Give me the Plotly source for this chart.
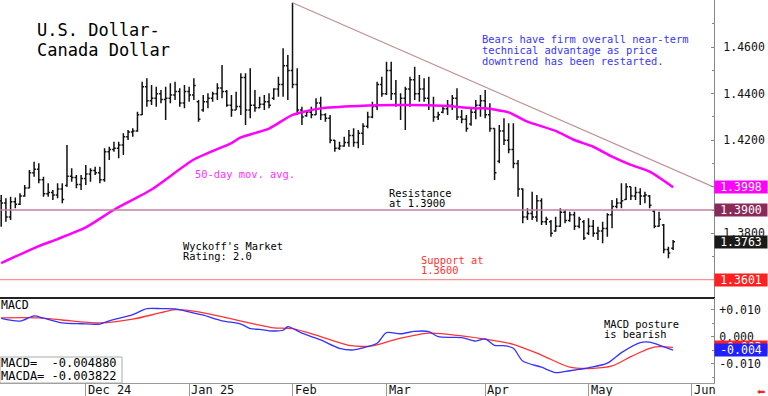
import math
import pandas as pd
import plotly.graph_objects as go

FONT = "DejaVu Sans Mono"

# ---------------- DATA ----------------
# trading calendar: weekdays from 6 Nov 2024, New Year's Day closed
calendar = [d for d in pd.bdate_range("2024-11-06", "2025-06-06")
            if d.strftime("%Y-%m-%d") != "2025-01-01"]

opens = [1.3940, 1.3930, 1.3870, 1.3935, 1.3925, 1.3960, 1.3995, 1.4060, 1.4075, 1.4030,
         1.3970, 1.3975, 1.3965, 1.3990, 1.4005, 1.4045, 1.4040, 1.4010, 1.4035, 1.4055,
         1.4070, 1.4060, 1.4030, 1.4150, 1.4160, 1.4165, 1.4180, 1.4215, 1.4235, 1.4240,
         1.4310, 1.4430, 1.4370, 1.4380, 1.4400, 1.4375, 1.4380, 1.4395, 1.4410, 1.4360,
         1.4410, 1.4395, 1.4365, 1.4330, 1.4365, 1.4380, 1.4400, 1.4425, 1.4410, 1.4350,
         1.4330, 1.4345, 1.4470, 1.4330, 1.4350, 1.4340, 1.4355, 1.4365, 1.4380, 1.4420,
         1.4440, 1.4520, 1.4500, 1.4440, 1.4330, 1.4305, 1.4320, 1.4310, 1.4360, 1.4310,
         1.4295, 1.4200, 1.4165, 1.4175, 1.4190, 1.4220, 1.4190, 1.4230, 1.4260, 1.4300,
         1.4345, 1.4440, 1.4400, 1.4500, 1.4400, 1.4350, 1.4380, 1.4420, 1.4460, 1.4400,
         1.4420, 1.4380, 1.4350, 1.4300, 1.4320, 1.4335, 1.4350, 1.4380, 1.4300, 1.4290,
         1.4270, 1.4320, 1.4350, 1.4370, 1.4310, 1.4250, 1.4110, 1.4240, 1.4200, 1.4160,
         1.4100, 1.3990, 1.3870, 1.3885, 1.3870, 1.3940, 1.3850, 1.3850, 1.3810, 1.3830,
         1.3890, 1.3855, 1.3880, 1.3830, 1.3850, 1.3800, 1.3830, 1.3800, 1.3810, 1.3820,
         1.3880, 1.3915, 1.3930, 1.3945, 1.4000, 1.3960, 1.3975, 1.3960, 1.3960, 1.3895,
         1.3830, 1.3835, 1.3730, 1.3735]

highs = [1.3964, 1.3950, 1.3957, 1.3954, 1.3972, 1.4007, 1.4072, 1.4108, 1.4101, 1.4043,
         1.4015, 1.3986, 1.4015, 1.4015, 1.4179, 1.4079, 1.4050, 1.4050, 1.4093, 1.4079,
         1.4086, 1.4086, 1.4165, 1.4172, 1.4194, 1.4194, 1.4230, 1.4244, 1.4251, 1.4323,
         1.4452, 1.4466, 1.4437, 1.4430, 1.4416, 1.4430, 1.4445, 1.4452, 1.4423, 1.4437,
         1.4430, 1.4466, 1.4373, 1.4394, 1.4402, 1.4409, 1.4445, 1.4523, 1.4416, 1.4395,
         1.4409, 1.4488, 1.4488, 1.4509, 1.4416, 1.4387, 1.4394, 1.4402, 1.4423, 1.4473,
         1.4595, 1.4566, 1.4791, 1.4509, 1.4344, 1.4330, 1.4344, 1.4380, 1.4387, 1.4316,
         1.4308, 1.4201, 1.4194, 1.4215, 1.4244, 1.4251, 1.4244, 1.4273, 1.4323, 1.4366,
         1.4452, 1.4473, 1.4538, 1.4538, 1.4459, 1.4402, 1.4430, 1.4473, 1.4516, 1.4480,
         1.4466, 1.4473, 1.4387, 1.4323, 1.4351, 1.4373, 1.4394, 1.4423, 1.4330, 1.4308,
         1.4337, 1.4373, 1.4394, 1.4416, 1.4359, 1.4251, 1.4265, 1.4294, 1.4273, 1.4273,
         1.4115, 1.3993, 1.3907, 1.3979, 1.3964, 1.3950, 1.3871, 1.3857, 1.3871, 1.3907,
         1.3900, 1.3893, 1.3893, 1.3871, 1.3857, 1.3864, 1.3857, 1.3828, 1.3850, 1.3886,
         1.3943, 1.3950, 1.4015, 1.4015, 1.4000, 1.4000, 1.3993, 1.3979, 1.3964, 1.3900,
         1.3893, 1.3840, 1.3742, 1.3771]

lows = [1.3828, 1.3850, 1.3857, 1.3907, 1.3921, 1.3957, 1.3993, 1.4043, 1.4015, 1.3957,
        1.3957, 1.3943, 1.3950, 1.3929, 1.4000, 1.4022, 1.3993, 1.3986, 1.4007, 1.4022,
        1.4050, 1.4015, 1.4022, 1.4115, 1.4151, 1.4122, 1.4136, 1.4201, 1.4215, 1.4237,
        1.4308, 1.4344, 1.4351, 1.4344, 1.4359, 1.4287, 1.4359, 1.4373, 1.4344, 1.4337,
        1.4366, 1.4373, 1.4280, 1.4323, 1.4337, 1.4366, 1.4373, 1.4380, 1.4344, 1.4301,
        1.4330, 1.4308, 1.4265, 1.4294, 1.4323, 1.4337, 1.4330, 1.4337, 1.4373, 1.4387,
        1.4387, 1.4373, 1.4423, 1.4308, 1.4265, 1.4301, 1.4294, 1.4308, 1.4287, 1.4280,
        1.4187, 1.4151, 1.4158, 1.4172, 1.4172, 1.4172, 1.4165, 1.4179, 1.4251, 1.4294,
        1.4330, 1.4387, 1.4394, 1.4373, 1.4344, 1.4287, 1.4244, 1.4344, 1.4373, 1.4366,
        1.4366, 1.4330, 1.4280, 1.4287, 1.4316, 1.4308, 1.4330, 1.4287, 1.4273, 1.4237,
        1.4262, 1.4290, 1.4301, 1.4294, 1.4237, 1.4029, 1.4101, 1.4179, 1.4144, 1.4079,
        1.3957, 1.3843, 1.3857, 1.3857, 1.3850, 1.3836, 1.3836, 1.3785, 1.3807, 1.3828,
        1.3843, 1.3850, 1.3814, 1.3821, 1.3771, 1.3793, 1.3785, 1.3771, 1.3757, 1.3785,
        1.3821, 1.3907, 1.3907, 1.3943, 1.3943, 1.3943, 1.3921, 1.3929, 1.3907, 1.3821,
        1.3828, 1.3714, 1.3692, 1.3728]

closes = [1.3930, 1.3870, 1.3935, 1.3925, 1.3960, 1.3995, 1.4060, 1.4075, 1.4030, 1.3970,
          1.3975, 1.3965, 1.3990, 1.3945, 1.4045, 1.4040, 1.4010, 1.4035, 1.4055, 1.4070,
          1.4060, 1.4030, 1.4150, 1.4160, 1.4165, 1.4180, 1.4215, 1.4235, 1.4240, 1.4310,
          1.4430, 1.4370, 1.4380, 1.4400, 1.4375, 1.4380, 1.4395, 1.4410, 1.4360, 1.4410,
          1.4395, 1.4435, 1.4290, 1.4365, 1.4380, 1.4400, 1.4425, 1.4410, 1.4350, 1.4330,
          1.4345, 1.4470, 1.4330, 1.4350, 1.4340, 1.4355, 1.4365, 1.4350, 1.4420, 1.4440,
          1.4520, 1.4500, 1.4440, 1.4330, 1.4300, 1.4320, 1.4310, 1.4360, 1.4310, 1.4295,
          1.4200, 1.4165, 1.4175, 1.4190, 1.4220, 1.4190, 1.4230, 1.4260, 1.4300, 1.4345,
          1.4440, 1.4400, 1.4500, 1.4400, 1.4350, 1.4380, 1.4420, 1.4460, 1.4400, 1.4420,
          1.4380, 1.4350, 1.4300, 1.4310, 1.4335, 1.4350, 1.4380, 1.4300, 1.4290, 1.4250,
          1.4320, 1.4350, 1.4370, 1.4310, 1.4250, 1.4060, 1.4240, 1.4200, 1.4160, 1.4100,
          1.3990, 1.3870, 1.3885, 1.3870, 1.3940, 1.3850, 1.3860, 1.3800, 1.3830, 1.3890,
          1.3855, 1.3880, 1.3830, 1.3860, 1.3780, 1.3830, 1.3800, 1.3810, 1.3820, 1.3880,
          1.3915, 1.3930, 1.3940, 1.4000, 1.3960, 1.3975, 1.3960, 1.3965, 1.3920, 1.3830,
          1.3860, 1.3730, 1.3715, 1.3763]

# 50-day moving average (bar number, value)
ma_bar = [0, 8, 12, 18, 24, 32, 41, 49, 51, 57, 62, 68, 76, 85, 91, 95, 101, 103,
          108, 112, 118, 122, 126, 130, 134, 138, 143]
ma_val = [1.3672, 1.3745, 1.3775, 1.3825, 1.3901, 1.3988, 1.4117, 1.4188, 1.4212,
          1.4250, 1.4309, 1.4337, 1.4347, 1.4351, 1.4350, 1.4347, 1.4337, 1.4337,
          1.4320, 1.4280, 1.4240, 1.4201, 1.4172, 1.4129, 1.4094, 1.4065, 1.3998]

# MACD (blue) and MACD average (red)
macd_bar = [0, 4, 7, 9, 13, 17, 21, 23, 28, 31, 34, 37, 40, 43, 47, 51, 53, 55, 57, 60,
            61, 64, 68, 72, 75, 77, 80, 82, 85, 88, 91, 93, 98, 101, 103, 105, 107, 109,
            111, 115, 118, 121, 125, 129, 132, 136, 138, 140, 143]
macd_val = [0.0069, 0.0059, 0.0078, 0.0070, 0.0052, 0.0049, 0.0048, 0.0060, 0.0083,
            0.0105, 0.0105, 0.0104, 0.0093, 0.0081, 0.0060, 0.0048, 0.0031, 0.0028,
            0.0023, 0.0025, 0.0038, 0.0014, -0.0011, -0.0042, -0.0048, -0.0040, -0.0023,
            0.0016, 0.0012, 0.0021, 0.0020, 0.0001, -0.0002, -0.0015, -0.0007, -0.0031,
            -0.0032, -0.0042, -0.0089, -0.0112, -0.0132, -0.0125, -0.0114, -0.0097,
            -0.0058, -0.0021, -0.0019, -0.0030, -0.004880]
sig_bar = [0, 8, 13, 21, 28, 34, 37, 42, 49, 54, 58, 62, 68, 74, 79, 84, 91, 98, 104,
           109, 115, 121, 126, 130, 134, 138, 140, 143]
sig_val = [0.0071, 0.0071, 0.0063, 0.0052, 0.0066, 0.0090, 0.0101, 0.0093, 0.0067,
           0.0048, 0.0034, 0.0031, 0.0001, -0.0031, -0.0033, -0.0009, 0.0014, 0.0004,
           -0.0011, -0.0027, -0.0067, -0.0112, -0.0116, -0.0107, -0.0073, -0.0042,
           -0.0036, -0.003822]

# trend line: from the February high to the right edge value
trend_start_date = "2025-02-03"
trend_vals = [1.4791, 1.3998]
resistance = 1.3900
support = 1.3601
wyckoff_rating = "2.0"

price_ticks = [1.36, 1.38, 1.40, 1.42, 1.44, 1.46]
price_ticktext = ["", "1.3800", "", "1.4200", "1.4400", "1.4600"]   # 1.36/1.40 sit under value boxes
macd_ticks = [0.010, 0.0, -0.010]
macd_ticktext = ["+0.010", "0.000", "-0.010"]
month_keys = ["2024-12", "2025-01", "2025-02", "2025-03", "2025-04", "2025-05", "2025-06"]
month_labels = ["Dec 24", "Jan 25", "Feb", "Mar", "Apr", "May", "Jun"]

# ---------------- FIGURE ----------------
n = len(closes)
dates = calendar[:n]
bar_x = list(range(n))
cal_keys = [d.strftime("%Y-%m") for d in calendar]
month_pos = [cal_keys.index(k) for k in month_keys]
cal_str = [d.strftime("%Y-%m-%d") for d in calendar]
trend_x0 = cal_str.index(trend_start_date)

PW, PH = 714, 383           # plot area size in px
X_RANGE = [-0.255, 151.7]
def xp(px):
    return px / PW
def yp(py):
    return (PH - py) / PH

fig = go.Figure()

fig.add_trace(go.Ohlc(
    x=bar_x, open=opens, high=highs, low=lows, close=closes,
    text=[d.strftime("%Y-%m-%d") for d in dates],
    increasing=dict(line=dict(color="#111111", width=1.5)),
    decreasing=dict(line=dict(color="#111111", width=1.5)),
    tickwidth=0.4, xaxis="x", yaxis="y", showlegend=False))

fig.add_trace(go.Scatter(
    x=ma_bar, y=ma_val, mode="lines", line=dict(color="#ff00ff", width=2.5, shape="spline", smoothing=0.6),
    xaxis="x", yaxis="y", showlegend=False, hoverinfo="skip"))

fig.add_trace(go.Scatter(
    x=[trend_x0, X_RANGE[1]], y=trend_vals, mode="lines",
    line=dict(color="#c09090", width=1.2), xaxis="x", yaxis="y",
    showlegend=False, hoverinfo="skip", cliponaxis=True))

fig.add_trace(go.Scatter(
    x=sig_bar, y=sig_val, mode="lines", line=dict(color="#ff3333", width=1.3, shape="spline", smoothing=0.8),
    xaxis="x2", yaxis="y2", showlegend=False))
fig.add_trace(go.Scatter(
    x=macd_bar, y=macd_val, mode="lines", line=dict(color="#3333ff", width=1.3, shape="spline", smoothing=0.8),
    xaxis="x2", yaxis="y2", showlegend=False))

shapes = [
    dict(type="line", xref="paper", x0=0, x1=1, yref="y", y0=resistance, y1=resistance,
         line=dict(color="#c080a0", width=1.3)),
    dict(type="line", xref="paper", x0=0, x1=1, yref="y", y0=support, y1=support,
         line=dict(color="#ff9090", width=1.3)),
    dict(type="rect", xref="paper", yref="paper", x0=xp(0), x1=xp(122), y0=yp(383), y1=yp(357),
         line=dict(color="#aaaaaa", width=1), fillcolor="white", layer="above"),
]

annots = []
def txt(s, x, y, size=10.4, color="black"):
    annots.append(dict(text=s, x=xp(x - 2), y=yp(y), xref="paper", yref="paper",
                       xanchor="left", yanchor="middle", showarrow=False,
                       font=dict(family=FONT, size=size, color=color)))

txt("U.S. Dollar-", 37, 30, size=17)
txt("Canada Dollar", 37, 50, size=17)
blue = "#3535ff"
txt("Bears have firm overall near-term", 482, 39, color=blue)
txt("technical advantage as price", 482, 50, color=blue)
txt("downtrend has been restarted.", 482, 61, color=blue)
txt("50-day mov. avg.", 195, 174, color="#ff30ff")
txt("Resistance", 389, 193)
txt("at %.4f" % resistance, 389, 203)
txt("Wyckoff's Market", 183, 246)
txt("Rating: " + wyckoff_rating, 183, 256)
txt("Support at", 421, 260, color="#ff3333")
txt("1.3600", 421, 270, color="#ff3333")
txt("MACD", 1, 305, size=11.5)
txt("MACD posture", 604, 324)
txt("is bearish", 604, 334)
txt("MACD=  %.6f" % macd_val[-1], 1, 363, size=12)
txt("MACDA= %.6f" % sig_val[-1], 1, 376, size=12)

for pos, lab in zip(month_pos, month_labels):
    annots.append(dict(text=lab, x=pos, xref="x2", xanchor="left", xshift=0,
                       y=yp(390), yref="paper", yanchor="middle", showarrow=False,
                       font=dict(family=FONT, size=12, color="#111111")))

def valbox(v, text, bg, yref):
    annots.append(dict(text=text, x=1, xref="paper", xanchor="left", y=v, yref=yref,
                       yanchor="middle", showarrow=False, bgcolor=bg, width=50, height=10,
                       borderpad=1, align="center",
                       font=dict(family=FONT, size=11.5, color="white")))

valbox(trend_vals[1], "%.4f" % trend_vals[1], "#ff00ff", "y")
valbox(resistance, "%.4f" % resistance, "#8a2a5a", "y")
valbox(closes[-1], "%.4f" % closes[-1], "#1a1a1a", "y")
valbox(support, "%.4f" % support, "#ff2020", "y")
valbox(sig_val[-1], "%.3f" % (math.trunc(sig_val[-1] * 1000) / 1000), "#ff2020", "y2")
valbox(macd_val[-1], "%.3f" % (math.trunc(macd_val[-1] * 1000) / 1000), "#2020ff", "y2")

annots.append(dict(text="\u2b05", x=xp(761), y=yp(391), xref="paper", yref="paper",
                   xanchor="center", yanchor="middle", showarrow=False,
                   font=dict(family="DejaVu Sans", size=10, color="#ff2020")))

axis_font = dict(family=FONT, size=11.5, color="#111111")
fig.update_layout(
    width=768, height=396,
    margin=dict(l=0, r=54, t=0, b=13),
    paper_bgcolor="white", plot_bgcolor="white",
    showlegend=False,
    xaxis=dict(domain=[0, 1], anchor="y", range=X_RANGE, showgrid=False, zeroline=False,
               showticklabels=False, ticks="", showline=True, linecolor="#222222",
               linewidth=1.5, rangeslider=dict(visible=False)),
    yaxis=dict(domain=[yp(297), 1], anchor="x", side="right", range=[1.35259, 1.4803],
               tickvals=price_ticks, ticktext=price_ticktext,
               showgrid=False, zeroline=False, showline=True, linecolor="#888888",
               ticks="inside", ticklen=3, tickcolor="#888888", tickfont=axis_font,
               ticklabelstandoff=6,
               minor=dict(dtick=0.01, tick0=1.0, ticks="inside", ticklen=2, tickcolor="#888888")),
    xaxis2=dict(domain=[0, 1], anchor="y2", range=X_RANGE, showgrid=False, zeroline=False,
                showticklabels=False, tickvals=month_pos, ticks="outside", ticklen=13,
                tickcolor="#999999", tickwidth=1, showline=True, linecolor="#999999",
                linewidth=1),
    yaxis2=dict(domain=[0, yp(298)], anchor="x2", side="right", range=[-0.01704, 0.01444],
                tickvals=macd_ticks, ticktext=macd_ticktext, showgrid=False, zeroline=False,
                showline=True, linecolor="#888888", ticks="inside", ticklen=3,
                tickcolor="#888888", tickfont=axis_font, ticklabelstandoff=2,
                minor=dict(dtick=0.005, tick0=0, ticks="inside", ticklen=2, tickcolor="#888888")),
    shapes=shapes,
    annotations=annots,
)

fig.write_html("out.html", config={"displayModeBar": False},
               post_script="document.body.style.margin='0';document.body.style.padding='0';")
